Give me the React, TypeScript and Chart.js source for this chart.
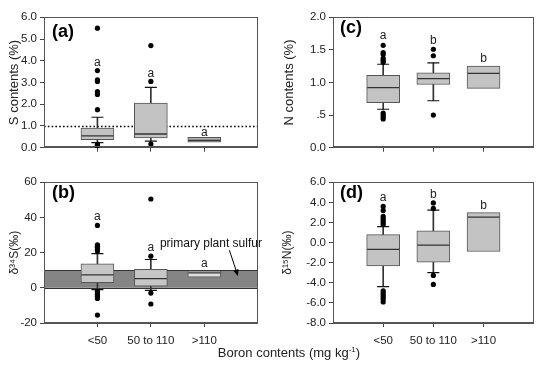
import React, { useEffect, useRef } from 'react';
import { Chart, registerables } from 'chart.js';

Chart.register(...registerables);

const FONT = '"Liberation Sans", Arial, Helvetica, sans-serif';

// ---- shared categories ----
const categories = ['<50', '50 to 110', '>110'];
const catX = [1, 2, 3];

// ---- (a) S contents (%) ----
const sQ1 = [0.37, 0.45, 0.26];
const sMed = [0.54, 0.63, 0.34];
const sQ3 = [0.9, 2.05, 0.48];
const sLo: (number | null)[] = [0.23, 0.3, null];
const sHi: (number | null)[] = [1.4, 2.78, null];
const sOut = [[5.5, 3.55, 3.12, 3.05, 2.58, 2.45, 1.75, 0.15, 0.1, 0.05], [4.7, 3.05, 0.17], []];
const sLetters = ['a', 'a', 'a'];
const sLetterY = [3.9, 3.4, 0.68];
const sTicks = [0, 1, 2, 3, 4, 5, 6];
const sTickLabels = ['0.0', '1.0', '2.0', '3.0', '4.0', '5.0', '6.0'];
const sThreshold = 1.0;

// ---- (b) δ34S ----
const dsQ1 = [2.9, 1.0, 6.0];
const dsMed = [7.4, 5.2, 8.5];
const dsQ3 = [13.7, 10.5, 9.6];
const dsLo: (number | null)[] = [-1, -1.5, null];
const dsHi: (number | null)[] = [19.4, 16.1, null];
const dsOut = [[35.5, 24.5, 23.5, 23, 22, 21, -2, -3, -4, -5, -6, -15.5], [50.5, 18, -3, -9.2], []];
const dsLetters = ['a', 'a', 'a'];
const dsLetterY = [40.5, 23, 14];
const dsTicks = [-20, 0, 20, 40, 60];
const dsTickLabels = ['-20', '0', '20', '40', '60'];
const dsBand: [number, number] = [0, 10];
const dsNote = 'primary plant sulfur';

// ---- (c) N contents (%) ----
const nQ1 = [0.69, 0.97, 0.91];
const nMed = [0.92, 1.06, 1.14];
const nQ3 = [1.11, 1.15, 1.25];
const nLo: (number | null)[] = [0.59, 0.72, null];
const nHi: (number | null)[] = [1.28, 1.3, null];
const nOut = [[1.57, 1.46, 1.43, 1.37, 1.34, 1.31, 0.53, 0.5, 0.47, 0.44], [1.51, 1.41, 0.5], []];
const nLetters = ['a', 'b', 'b'];
const nLetterY = [1.72, 1.64, 1.37];
const nTicks = [0, 0.5, 1, 1.5, 2];
const nTickLabels = ['0.0', '.5', '1.0', '1.5', '2.0'];

// ---- (d) δ15N ----
const dnQ1 = [-2.32, -1.94, -0.89];
const dnMed = [-0.67, -0.25, 2.54];
const dnQ3 = [0.79, 1.17, 2.98];
const dnLo: (number | null)[] = [-4.38, -2.98, null];
const dnHi: (number | null)[] = [1.59, 3.24, null];
const dnOut = [[3.6, 3.2, 2.6, 2.4, 2.2, 2.0, 1.8, -4.8, -5.0, -5.2, -5.4, -5.6, -5.9], [3.95, 3.4, -3.27, -4.16], []];
const dnLetters = ['a', 'b', 'b'];
const dnLetterY = [4.5, 4.75, 3.7];
const dnTicks = [-8, -6, -4, -2, 0, 2, 4, 6];
const dnTickLabels = ['-8.0', '-6.0', '-4.0', '-2.0', '0.0', '2.0', '4.0', '6.0'];

const xTitle = 'Boron contents (mg kg';

type Panel = {
  q1: number[]; med: number[]; q3: number[];
  lo: (number | null)[]; hi: (number | null)[]; out: number[][];
  letters: string[]; letterY: number[];
  ticks: number[]; tickLabels: string[];
  yTitle: string; yTitleSize: number; yTitlePad: number;
  label: string; labelDx: number; labelDy: number;
  showX: boolean;
  box: { left: number; top: number; width: number; height: number };
  yAxisW: number; padTop: number; padRight: number; xAxisH: number;
  fills: string[];
  dotted?: number;
  band?: [number, number];
  note?: { text: string; tx: number; ty: number; ax0: number; ay0: number; ax1: number; ay1: number };
};

const panels: Panel[] = [
  {
    q1: sQ1, med: sMed, q3: sQ3, lo: sLo, hi: sHi, out: sOut,
    letters: sLetters, letterY: sLetterY, ticks: sTicks, tickLabels: sTickLabels,
    yTitle: 'S contents (%)', yTitleSize: 13, yTitlePad: 7,
    label: '(a)', labelDx: 8, labelDy: 15, showX: false,
    box: { left: 0, top: 0, width: 275, height: 165 },
    yAxisW: 44, padTop: 6, padRight: 10, xAxisH: 12,
    fills: ['#c3c3c3', '#c3c3c3', '#b0b0b0'],
    dotted: sThreshold,
  },
  {
    q1: dsQ1, med: dsMed, q3: dsQ3, lo: dsLo, hi: dsHi, out: dsOut,
    letters: dsLetters, letterY: dsLetterY, ticks: dsTicks, tickLabels: dsTickLabels,
    yTitle: 'δ³⁴S(‰)', yTitleSize: 12, yTitlePad: 7,
    label: '(b)', labelDx: 8, labelDy: 11, showX: true,
    box: { left: 0, top: 165, width: 275, height: 195 },
    yAxisW: 44, padTop: 11, padRight: 13, xAxisH: 37,
    fills: ['#c6c6c6', '#c6c6c6', '#dedede'],
    band: dsBand,
    note: { text: dsNote, tx: 2.17, ty: 25.2, ax0: 3.47, ay0: 21.4, ax1: 3.63, ay1: 6.7 },
  },
  {
    q1: nQ1, med: nMed, q3: nQ3, lo: nLo, hi: nHi, out: nOut,
    letters: nLetters, letterY: nLetterY, ticks: nTicks, tickLabels: nTickLabels,
    yTitle: 'N contents (%)', yTitleSize: 13, yTitlePad: 7,
    label: '(c)', labelDx: 7, labelDy: 11, showX: false,
    box: { left: 275, top: 0, width: 276, height: 165 },
    yAxisW: 58, padTop: 6, padRight: 1, xAxisH: 12,
    fills: ['#c3c3c3', '#c3c3c3', '#c3c3c3'],
  },
  {
    q1: dnQ1, med: dnMed, q3: dnQ3, lo: dnLo, hi: dnHi, out: dnOut,
    letters: dnLetters, letterY: dnLetterY, ticks: dnTicks, tickLabels: dnTickLabels,
    yTitle: 'δ¹⁵N(‰)', yTitleSize: 12, yTitlePad: 5,
    label: '(d)', labelDx: 7, labelDy: 11, showX: true,
    box: { left: 275, top: 165, width: 276, height: 195 },
    yAxisW: 58, padTop: 11, padRight: 1, xAxisH: 37,
    fills: ['#c3c3c3', '#c3c3c3', '#c3c3c3'],
  },
];

function buildConfig(p: Panel): any {
  const boxes = catX.map((x, i) => ({ x, y: [p.q1[i], p.q3[i]] }));
  const whiskers: any[] = [];
  const caps: any[] = [];
  catX.forEach((x, i) => {
    const lo = p.lo[i];
    const hi = p.hi[i];
    if (lo != null && hi != null) {
      whiskers.push({ x, y: [lo, hi] });
      caps.push({ x, y: lo });
      caps.push({ x, y: hi });
    }
  });
  const medians = catX.map((x, i) => ({ x, y: p.med[i] }));
  const outs: any[] = [];
  p.out.forEach((arr, i) => arr.forEach((v) => outs.push({ x: catX[i], y: v })));

  const plugin = {
    id: 'extras',
    beforeDatasetsDraw(chart: any) {
      const { ctx, chartArea: a, scales } = chart;
      const y = scales.y;
      ctx.save();
      if (p.band) {
        const y0 = y.getPixelForValue(p.band[0]);
        const y1 = y.getPixelForValue(p.band[1]);
        ctx.fillStyle = '#858585';
        ctx.fillRect(a.left, y1, a.right - a.left, y0 - y1);
        ctx.strokeStyle = '#333';
        ctx.lineWidth = 1;
        ctx.beginPath();
        ctx.moveTo(a.left, Math.round(y0) + 0.5);
        ctx.lineTo(a.right, Math.round(y0) + 0.5);
        ctx.moveTo(a.left, Math.round(y1) + 0.5);
        ctx.lineTo(a.right, Math.round(y1) + 0.5);
        ctx.stroke();
      }
      if (p.dotted != null) {
        const yy = Math.round(y.getPixelForValue(p.dotted)) + 0.5;
        ctx.strokeStyle = '#000';
        ctx.lineWidth = 1.6;
        ctx.setLineDash([1.6, 2.2]);
        ctx.beginPath();
        ctx.moveTo(a.left, yy);
        ctx.lineTo(a.right, yy);
        ctx.stroke();
        ctx.setLineDash([]);
      }
      ctx.restore();
    },
    afterDatasetsDraw(chart: any) {
      const { ctx, chartArea: a, scales } = chart;
      const x = scales.x;
      const y = scales.y;
      ctx.save();
      // frame
      ctx.strokeStyle = '#555';
      ctx.lineWidth = 1;
      ctx.strokeRect(Math.round(a.left) + 0.5, Math.round(a.top) + 0.5, Math.round(a.right - a.left) - 1, Math.round(a.bottom - a.top) - 1);
      // letters
      ctx.fillStyle = '#222';
      ctx.font = `12px ${FONT}`;
      ctx.textAlign = 'center';
      ctx.textBaseline = 'middle';
      p.letters.forEach((t, i) => {
        ctx.fillText(t, x.getPixelForValue(catX[i]), y.getPixelForValue(p.letterY[i]));
      });
      // panel label
      ctx.fillStyle = '#000';
      ctx.font = `bold 18px ${FONT}`;
      ctx.textAlign = 'left';
      ctx.fillText(p.label, a.left + p.labelDx, a.top + p.labelDy);
      // note + arrow
      if (p.note) {
        const n = p.note;
        ctx.fillStyle = '#111';
        ctx.font = `12px ${FONT}`;
        ctx.fillText(n.text, x.getPixelForValue(n.tx), y.getPixelForValue(n.ty));
        const x0 = x.getPixelForValue(n.ax0), y0 = y.getPixelForValue(n.ay0);
        const x1 = x.getPixelForValue(n.ax1), y1 = y.getPixelForValue(n.ay1);
        const ang = Math.atan2(y1 - y0, x1 - x0);
        ctx.strokeStyle = '#000';
        ctx.lineWidth = 1;
        ctx.beginPath();
        ctx.moveTo(x0, y0);
        ctx.lineTo(x1 - 4 * Math.cos(ang), y1 - 4 * Math.sin(ang));
        ctx.stroke();
        ctx.beginPath();
        ctx.moveTo(x1, y1);
        ctx.lineTo(x1 - 7 * Math.cos(ang - 0.4), y1 - 7 * Math.sin(ang - 0.4));
        ctx.lineTo(x1 - 7 * Math.cos(ang + 0.4), y1 - 7 * Math.sin(ang + 0.4));
        ctx.closePath();
        ctx.fillStyle = '#000';
        ctx.fill();
      }
      ctx.restore();
    },
  };

  const tickFont = { family: FONT, size: 11.5 };

  return {
    type: 'scatter',
    data: {
      datasets: [
        { type: 'bar', data: whiskers, barThickness: 1, backgroundColor: '#333', grouped: false, order: 5 },
        {
          type: 'bar', data: boxes, barThickness: 33, backgroundColor: p.fills, borderColor: '#555',
          borderWidth: 1, borderSkipped: false, grouped: false, order: 4,
        },
        { type: 'scatter', data: medians, pointStyle: 'line', radius: 16, borderColor: '#333', borderWidth: 1.3, order: 3 },
        { type: 'scatter', data: caps, pointStyle: 'line', radius: 6, borderColor: '#111', borderWidth: 1.2, order: 2 },
        { type: 'scatter', data: outs, pointStyle: 'circle', radius: 2.6, backgroundColor: '#000', borderWidth: 0, order: 1 },
      ],
    },
    options: {
      animation: false,
      responsive: false,
      devicePixelRatio: 1,
      events: [],
      layout: { padding: { top: p.padTop, right: p.padRight, left: 0, bottom: 0 } },
      plugins: { legend: { display: false }, tooltip: { enabled: false } },
      scales: {
        x: {
          type: 'linear', min: 0, max: 4, offset: false,
          afterBuildTicks: (s: any) => { s.ticks = catX.map((v) => ({ value: v })); },
          afterFit: (s: any) => { s.height = p.xAxisH; },
          grid: { drawOnChartArea: false, drawTicks: true, tickLength: 4, color: '#444', offset: false },
          border: { display: true, color: '#555' },
          ticks: {
            autoSkip: false, maxRotation: 0, padding: 7, color: '#222', font: tickFont,
            callback: (_v: any, i: number) => (p.showX ? categories[i] : ''),
          },
        },
        y: {
          type: 'linear', min: p.ticks[0], max: p.ticks[p.ticks.length - 1],
          afterBuildTicks: (s: any) => { s.ticks = p.ticks.map((v) => ({ value: v })); },
          afterFit: (s: any) => { s.width = p.yAxisW; },
          grid: { drawOnChartArea: false, drawTicks: true, tickLength: 4, color: '#444' },
          border: { display: true, color: '#555' },
          ticks: {
            padding: 3, color: '#222', font: tickFont,
            callback: (_v: any, i: number) => p.tickLabels[i],
          },
          title: {
            display: true, text: p.yTitle, color: '#222',
            font: { family: FONT, size: p.yTitleSize },
            padding: { top: p.yTitlePad, bottom: 0 },
          },
        },
      },
    },
    plugins: [plugin],
  };
}

function PanelChart({ p }: { p: Panel }) {
  const ref = useRef<HTMLCanvasElement>(null);
  useEffect(() => {
    const chart = new Chart(ref.current as HTMLCanvasElement, buildConfig(p));
    return () => chart.destroy();
  }, []);
  return (
    <canvas
      ref={ref}
      width={p.box.width}
      height={p.box.height}
      style={{ position: 'absolute', left: p.box.left, top: p.box.top, width: p.box.width, height: p.box.height }}
    />
  );
}

export default function App() {
  return (
    <div style={{ position: 'absolute', left: 0, top: 0, width: 551, height: 365, background: '#fff', overflow: 'hidden' }}>
      {panels.map((p, i) => (
        <PanelChart key={i} p={p} />
      ))}
      <div
        style={{
          position: 'absolute', left: 0, width: 578, top: 345, textAlign: 'center',
          fontFamily: FONT, fontSize: 13, color: '#222', lineHeight: '16px', whiteSpace: 'nowrap',
        }}
      >
        {xTitle}
        <sup style={{ fontSize: 8, lineHeight: 0 }}>-1</sup>)
      </div>
    </div>
  );
}
